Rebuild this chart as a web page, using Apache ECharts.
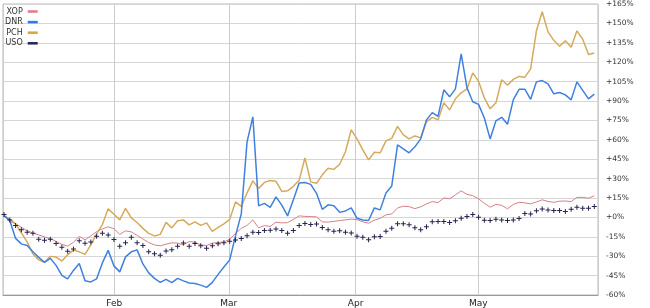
<!DOCTYPE html>
<html><head><meta charset="utf-8">
<script src="https://cdn.jsdelivr.net/npm/echarts@6/dist/echarts.min.js"></script>
<style>html,body{margin:0;padding:0;background:#fff}#c{width:650px;height:308px}</style>
</head><body><div id="c"></div>
<script>
const dates = [
'2009-01-02','2009-01-05','2009-01-06','2009-01-07','2009-01-08','2009-01-09','2009-01-12','2009-01-13','2009-01-14','2009-01-15',
'2009-01-16','2009-01-20','2009-01-21','2009-01-22','2009-01-23','2009-01-26','2009-01-27','2009-01-28','2009-01-29','2009-01-30',
'2009-02-02','2009-02-03','2009-02-04','2009-02-05','2009-02-06','2009-02-09','2009-02-10','2009-02-11','2009-02-12','2009-02-13',
'2009-02-17','2009-02-18','2009-02-19','2009-02-20','2009-02-23','2009-02-24','2009-02-25','2009-02-26','2009-02-27','2009-03-02',
'2009-03-03','2009-03-04','2009-03-05','2009-03-06','2009-03-09','2009-03-10','2009-03-11','2009-03-12','2009-03-13','2009-03-16',
'2009-03-17','2009-03-18','2009-03-19','2009-03-20','2009-03-23','2009-03-24','2009-03-25','2009-03-26','2009-03-27','2009-03-30',
'2009-03-31','2009-04-01','2009-04-02','2009-04-03','2009-04-06','2009-04-07','2009-04-08','2009-04-09','2009-04-13','2009-04-14',
'2009-04-15','2009-04-16','2009-04-17','2009-04-20','2009-04-21','2009-04-22','2009-04-23','2009-04-24','2009-04-27','2009-04-28',
'2009-04-29','2009-04-30','2009-05-01','2009-05-04','2009-05-05','2009-05-06','2009-05-07','2009-05-08','2009-05-11','2009-05-12',
'2009-05-13','2009-05-14','2009-05-15','2009-05-18','2009-05-19','2009-05-20','2009-05-21','2009-05-22','2009-05-26','2009-05-27',
'2009-05-28','2009-05-29','2009-06-01'];

const xop = [
2.3,-1.9,-3.8,-6.5,-9.1,-10.9,-12.3,-13.8,-15.2,-17.3,
-19.6,-20.9,-18.1,-13.4,-16.1,-13.1,-9.8,-7.7,-6.1,-7.5,
-11.9,-9.2,-10,-12.7,-15.4,-18.2,-20,-20.7,-19.4,-18.4,
-18.6,-20,-17.4,-18,-20,-20.4,-18.6,-18.2,-17.7,-15.7,
-11.1,-7.3,-5,-0.8,-6.9,-5.2,-5.8,-2.5,-3.1,-2.9,
-0.4,2.3,1.9,1.8,1.5,-2.3,-2.5,-1.9,-1.3,-0.8,
-0.2,-0.6,-2.3,-3.3,-1,0.4,3.1,3.8,8.4,9.7,
9.4,7.9,9.2,11.5,13.3,12.5,16.1,15.4,18.4,21.5,
18.8,17.8,15.4,11.9,9,11.1,10.4,7.7,11.1,12.7,
12.3,11.5,13,14.6,13.4,12.7,13.6,13.7,13.3,16.5,
16.5,15.9,17.7];

const dnr = [
2.3,-1.2,-15,-19.2,-20.4,-25.3,-29.6,-33.4,-30.3,-35.7,
-43.4,-46.1,-39.6,-34.2,-47.6,-48.4,-46.1,-33.8,-24.2,-36.1,
-40.7,-29.2,-25.3,-23.8,-34.6,-41.5,-45.7,-48.8,-46.5,-48.9,
-45.7,-47.6,-49.2,-49.6,-50.9,-52.6,-48.8,-42.6,-36.9,-31.5,
-13.1,3.8,59.1,78.3,10,11.9,8.8,16.9,10.5,2.3,
14.6,27.6,27.9,26.5,19.6,7.3,10.8,10,5,6.1,
8.4,0.4,-0.8,-1.3,8.4,6.9,19.9,25.3,56.8,53.8,
50.7,55.3,61.4,76,81.6,78.7,99.1,93.7,99.8,126.7,
100.6,89.9,87.9,77.5,61.4,75.3,78,72.6,91.4,99.5,
99.6,91.8,105.2,106.2,103.7,96,97,95.2,91.4,105.2,
98.7,92.2,95.8];

const pch = [
2.7,-0.4,-3.8,-10.8,-17.7,-26.9,-31.5,-33.3,-28.8,-29.3,
-32.4,-27.6,-24,-25.3,-27.3,-20,-11.5,-4.4,7.7,3.5,
-0.8,8.1,0.8,-2.8,-7.3,-11.1,-13.1,-11.9,-2.7,-6.9,
-1.5,-0.8,-4.6,-2.3,-5,-3.1,-9.6,-6.5,-3.8,-0.4,
13,9.6,20,29.2,23.4,28,29.4,28.8,21.1,21.5,
25,29.6,46.8,28.4,27.3,33.8,38.8,38,41.9,51.5,
68.4,61.4,53,45.3,51.1,50.7,59.9,61.8,71,64.5,
61.4,63.7,62.2,74.5,77.9,76,89.1,83.7,92.2,96.8,
99.8,112.1,105.6,92.9,84.5,89.1,106.8,102.6,107.1,109.4,
108.8,115.2,144.4,159,143.6,137.1,132.5,136.7,131.7,144.4,
137.9,126.3,127.3];

const uso = [
3.3,-0.8,-5,-8.3,-10.3,-11,-15.7,-16.5,-15.7,-18.9,
-21.8,-24.8,-23.2,-16.9,-18.7,-17.7,-13.3,-11.1,-12.3,-15.9,
-21.1,-18.4,-14.2,-18.3,-20.4,-25.2,-26.7,-28,-24.7,-23.7,
-21.1,-18.5,-21.1,-19,-20.6,-22.6,-20.7,-19.2,-18.4,-17.2,
-16.2,-15.1,-12.9,-10.3,-10.4,-9,-8.8,-7.8,-9,-11.1,
-9,-5.1,-3.5,-4.4,-3.9,-6.6,-8.4,-9.5,-9.2,-10.3,
-10.8,-13.4,-14.2,-16.1,-13.8,-13.5,-9.6,-7.3,-3.8,-3.8,
-4.5,-6.8,-8.4,-6,-2.2,-2.1,-2.1,-2.8,-1.4,0.5,
1.8,3.3,1.2,-1,-1.3,-0.3,-0.8,-1.2,-0.8,0.3,
4.2,3.8,6.3,7.5,6.9,6.4,6.4,5.6,7.3,8.9,
8.2,8.2,9.5];

const seriesNames = ['XOP','DNR','PCH','USO'];
const monthNames = ['Jan','Feb','Mar','Apr','May','Jun','Jul','Aug','Sep','Oct','Nov','Dec'];
const yMin = -60, yMax = 165, yStep = 15;

const FONT = '"DejaVu Sans", Verdana, sans-serif';
const plusPath = 'path://M0,2H5V3H0Z M2,0H3V5H2Z';
const DAY = 24 * 3600 * 1000;
const chart = echarts.init(document.getElementById('c'), null, {renderer: 'canvas'});

const option = {
  animation: false,
  backgroundColor: '#ffffff',
  legend: {
    data: seriesNames,
    orient: 'vertical', left: 5, top: 6.5, align: 'right', padding: 0,
    icon: 'rect', itemWidth: 10, itemHeight: 2.5, itemGap: 0.6,
    selectedMode: false,
    textStyle: {fontFamily: FONT, fontSize: 8, color: '#333', lineHeight: 10, padding: 0}
  },
  grid: [
    {left: 3, top: 4, width: 595, height: 293, show: true, borderColor: '#b8b8b8', borderWidth: 1, backgroundColor: 'transparent'},
    {left: 4, top: 4, width: 590.3, height: 293}
  ],
  xAxis: [
    {
      type: 'time', gridIndex: 0,
      min: new Date(2009, 0, 4, 19).getTime(),
      max: new Date(2009, 4, 30, 6, 30).getTime(),
      splitNumber: 4, minInterval: 28 * DAY,
      axisLine: {show: true, onZero: false, lineStyle: {color: '#9a9a9a'}},
      axisTick: {show: false},
      splitLine: {show: true, lineStyle: {color: '#cccccc', width: 1}},
      axisLabel: {
        formatter: function (v) {
          const d = new Date(v);
          return (d.getDate() === 1 && d.getHours() === 0) ? monthNames[d.getMonth()] : '';
        },
        fontFamily: FONT, fontSize: 9, color: '#222', margin: 4
      }
    },
    {type: 'category', gridIndex: 1, data: dates, boundaryGap: false, show: false}
  ],
  yAxis: [
    {
      type: 'value', gridIndex: 0, position: 'right',
      min: yMin, max: yMax, interval: yStep,
      axisLine: {show: false}, axisTick: {show: false},
      splitLine: {show: true, lineStyle: {color: '#d6d6d6', width: 1}},
      axisLabel: {
        formatter: function (v) { return (v >= 0 ? '+' : '') + v + '%'; },
        fontFamily: FONT, fontSize: 7.5, color: '#333', margin: 8
      }
    },
    {type: 'value', gridIndex: 1, min: yMin, max: yMax, show: false}
  ],
  series: [
    {name: 'XOP', type: 'line', xAxisIndex: 1, yAxisIndex: 1, data: xop, showSymbol: false,
     lineStyle: {color: '#d7808a', width: 1}, itemStyle: {color: '#e07a86'}, z: 2},
    {name: 'PCH', type: 'line', xAxisIndex: 1, yAxisIndex: 1, data: pch, showSymbol: false,
     lineStyle: {color: '#d6aa5c', width: 1.5}, itemStyle: {color: '#d9a441'}, z: 3},
    {name: 'DNR', type: 'line', xAxisIndex: 1, yAxisIndex: 1, data: dnr, showSymbol: false,
     lineStyle: {color: '#3f80e0', width: 1.5}, itemStyle: {color: '#2f78e8'}, z: 4},
    {name: 'USO', type: 'line', xAxisIndex: 1, yAxisIndex: 1, data: uso,
     showSymbol: true, showAllSymbol: true, symbol: plusPath, symbolSize: 5,
     lineStyle: {width: 0, opacity: 0}, itemStyle: {color: '#24244f'}, z: 5}
  ]
};
chart.setOption(option);
</script>
</body></html>
